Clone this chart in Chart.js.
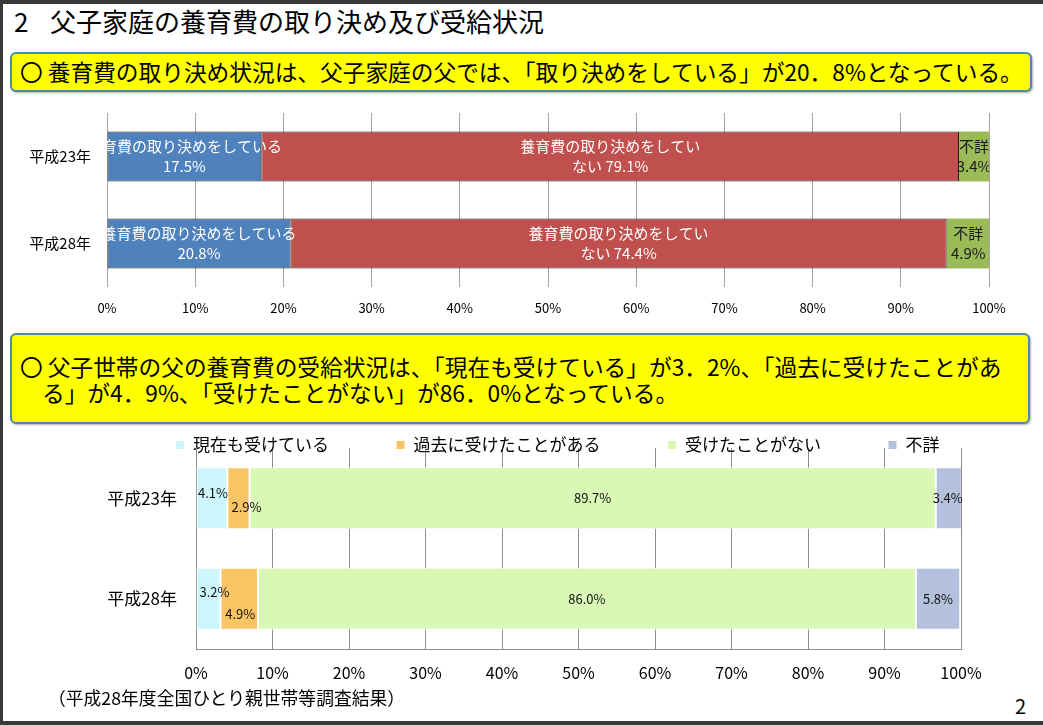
<!DOCTYPE html>
<html lang="ja">
<head>
<meta charset="utf-8">
<title>父子家庭の養育費の取り決め及び受給状況</title>
<script src="https://cdn.jsdelivr.net/npm/chart.js@4.4.1/dist/chart.umd.min.js"></script>
<style>
  html, body { margin: 0; padding: 0; }
  body {
    width: 1043px; height: 725px; position: relative; overflow: hidden;
    background: #fff; color: #000;
    font-family: "Noto Sans CJK JP", sans-serif;
  }
  .frame {
    position: absolute; left: 0; top: 0; width: 1043px; height: 725px;
    box-sizing: border-box; pointer-events: none; z-index: 5;
    border-top: 4px solid #3a3a3a; border-left: 3px solid #3a3a3a; border-bottom: 4px solid #3a3a3a;
  }
  .title { position: absolute; left: 14px; top: 6px; font-size: 26px; line-height: 30px; white-space: nowrap; }
  .title .num { display: inline-block; width: 36px; }
  .box {
    position: absolute; left: 10px; box-sizing: border-box;
    background: #ffff00; border: 2px solid #4b8ba8; border-radius: 6px;
    box-shadow: 1px 1px 2px rgba(0, 0, 0, 0.3);
    font-size: 22.7px; white-space: nowrap;
  }
  #box1 { top: 52px; width: 1022px; height: 40px; line-height: 36px; padding-left: 8px; }
  #box2 { top: 333px; width: 1020px; height: 91px; line-height: 26px; padding: 19px 0 0 8px; }
  #box2 .l2 { padding-left: 22px; }
  .wrap { position: absolute; left: 0; width: 1043px; }
  #wrap1 { top: 100px; height: 225px; }
  #wrap2 { top: 354px; height: 335px; }
  .note { position: absolute; left: 48px; top: 685px; font-size: 17.8px; line-height: 24px; white-space: nowrap; }
  .page { position: absolute; left: 1015px; top: 694px; font-size: 20px; line-height: 24px; }
</style>
</head>
<body>
<div class="frame"></div>
<div class="title"><span class="num">2</span>父子家庭の養育費の取り決め及び受給状況</div>
<div class="box" id="box1">〇 養育費の取り決め状況は、父子家庭の父では、「取り決めをしている」が20．8%となっている。</div>
<div class="wrap" id="wrap1"><canvas id="agreeChart"></canvas></div>
<div class="box" id="box2">
  <div>〇 父子世帯の父の養育費の受給状況は、「現在も受けている」が3．2%、「過去に受けたことがあ</div>
  <div class="l2">る」が4．9%、「受けたことがない」が86．0%となっている。</div>
</div>
<div class="wrap" id="wrap2"><canvas id="receiptChart"></canvas></div>
<div class="note">（平成28年度全国ひとり親世帯等調査結果）</div>
<div class="page">2</div>

<script>
const years = ["平成23年", "平成28年"];
const pctTicks = [0, 10, 20, 30, 40, 50, 60, 70, 80, 90, 100];

// 養育費の取り決め状況
const agreeNames = ["養育費の取り決めをしている", "養育費の取り決めをしていない", "不詳"];
const agreeYes = [17.5, 20.8];
const agreeNo = [79.1, 74.4];
const agreeUnknown = [3.4, 4.9];

// 養育費の受給状況
const receiptNames = ["現在も受けている", "過去に受けたことがある", "受けたことがない", "不詳"];
const receiptNow = [4.1, 3.2];
const receiptPast = [2.9, 4.9];
const receiptNever = [89.7, 86.0];
const receiptUnknown = [3.4, 5.8];

Chart.defaults.font.family = "'Noto Sans CJK JP', sans-serif";
Chart.defaults.color = "#000";

const pct = (v) => v.toFixed(1) + "%";
const setTicks = (scale) => { scale.ticks = pctTicks.map((v) => ({ value: v })); };
// fixed width for the category axis, and no extra room for its labels above/below
const fixWidth = (w) => (s) => { s.width = w; s.paddingTop = 0; s.paddingBottom = 0; };

// labels drawn in the middle of each bar segment
const barLabels = {
  id: "barLabels",
  afterDatasetsDraw(chart, args, opts) {
    const { ctx, chartArea } = chart;
    ctx.save();
    if (opts.clip) {
      ctx.beginPath();
      ctx.rect(chartArea.left, chartArea.top, chartArea.width, chartArea.height);
      ctx.clip();
    }
    ctx.textAlign = "center";
    ctx.textBaseline = "middle";
    ctx.font = opts.size + "px 'Noto Sans CJK JP', sans-serif";
    chart.data.datasets.forEach((ds, di) => {
      chart.getDatasetMeta(di).data.forEach((bar, i) => {
        const { x, y, base } = bar.getProps(["x", "y", "base"], true);
        const lines = ds.labelLines(ds.data[i]);
        const off = (opts.offsets && opts.offsets[di] && opts.offsets[di][i]) || [0, 0];
        const cx = (x + base) / 2 + off[0];
        const cy = y + off[1] - ((lines.length - 1) * opts.lineHeight) / 2;
        ctx.fillStyle = ds.labelColor;
        lines.forEach((t, k) => ctx.fillText(t, cx, cy + k * opts.lineHeight));
      });
    });
    ctx.restore();
  },
};

// move the legend so it sits where the slide has it
const legendNudge = {
  id: "legendNudge",
  afterLayout(chart, args, opts) {
    const lg = chart.legend;
    if (!lg || !opts.dx && !opts.dy) return;
    lg.left += opts.dx; lg.right += opts.dx;
    lg.top += opts.dy; lg.bottom += opts.dy;
  },
};

new Chart(document.getElementById("agreeChart"), {
  type: "bar",
  plugins: [barLabels],
  data: {
    labels: years,
    datasets: [
      {
        label: agreeNames[0], data: agreeYes,
        backgroundColor: "#4f81bd", borderColor: "#1c1c1c", borderWidth: 1,
        labelColor: "#fff", labelLines: (v) => ["養育費の取り決めをしている", pct(v)],
      },
      {
        label: agreeNames[1], data: agreeNo,
        backgroundColor: "#c0504d", borderColor: "#1c1c1c", borderWidth: 1,
        labelColor: "#fff", labelLines: (v) => ["養育費の取り決めをしてい", "ない " + pct(v)],
      },
      {
        label: agreeNames[2], data: agreeUnknown,
        backgroundColor: "#9bbb59", borderWidth: 0,
        labelColor: "#1a1a1a", labelLines: (v) => ["不詳", pct(v)],
      },
    ],
  },
  options: {
    indexAxis: "y",
    responsive: true,
    maintainAspectRatio: false,
    animation: false,
    datasets: { bar: { barPercentage: 0.575, categoryPercentage: 1, borderSkipped: false } },
    layout: { padding: { top: 13, right: 54, left: 0, bottom: 0 } },
    plugins: {
      legend: { display: false },
      tooltip: { enabled: false },
      barLabels: { size: 15, lineHeight: 20, clip: true },
    },
    scales: {
      x: {
        stacked: true, min: 0, max: 100,
        afterBuildTicks: setTicks,
        afterFit: (s) => { s.height = 38; },
        grid: { color: "#a6a6a6", drawTicks: false },
        border: { display: false },
        ticks: { font: { size: 13 }, padding: 13, callback: (v) => v + "%" },
      },
      y: {
        stacked: true,
        afterFit: fixWidth(107),
        grid: { display: false, drawTicks: false },
        border: { display: false },
        ticks: { font: { size: 15 }, padding: 16 },
      },
    },
  },
});

new Chart(document.getElementById("receiptChart"), {
  type: "bar",
  plugins: [barLabels, legendNudge],
  data: {
    labels: years,
    datasets: [
      { label: receiptNames[0], data: receiptNow, backgroundColor: "#ccf6fb" },
      { label: receiptNames[1], data: receiptPast, backgroundColor: "#f9c564" },
      { label: receiptNames[2], data: receiptNever, backgroundColor: "#d9f7b5" },
      { label: receiptNames[3], data: receiptUnknown, backgroundColor: "#b4c1dc" },
    ].map((ds) => Object.assign(ds, {
      borderColor: "#ffffff", borderWidth: 1,
      labelColor: "#111", labelLines: (v) => [pct(v)],
    })),
  },
  options: {
    indexAxis: "y",
    responsive: true,
    maintainAspectRatio: false,
    animation: false,
    datasets: { bar: { barPercentage: 0.617, categoryPercentage: 1, borderSkipped: false } },
    layout: { padding: { top: 0, right: 82, left: 0, bottom: 0 } },
    plugins: {
      tooltip: { enabled: false },
      legend: {
        position: "top",
        labels: { boxWidth: 9, boxHeight: 9, padding: 67, color: "#000", font: { size: 17 } },
      },
      legendNudge: { dx: 77, dy: 15.5 },
      barLabels: {
        size: 13, lineHeight: 16, clip: false,
        offsets: [[[1, -5], [6, -7]], [[8, 9], [1, 15]], [[0, 0], [0, 0]], [[-1, 0], [0, 0]]],
      },
    },
    scales: {
      x: {
        stacked: true, min: 0, max: 100,
        afterBuildTicks: setTicks,
        afterFit: (s) => { s.height = 40; },
        grid: { color: "#8c8c8c", drawTicks: false },
        border: { display: true, color: "#8c8c8c" },
        ticks: { font: { size: 16 }, padding: 14, callback: (v) => v + "%" },
      },
      y: {
        stacked: true,
        afterFit: fixWidth(196),
        grid: { display: false, drawTicks: false },
        border: { display: true, color: "#8c8c8c" },
        ticks: { font: { size: 17 }, padding: 19 },
      },
    },
  },
});
</script>
</body>
</html>
